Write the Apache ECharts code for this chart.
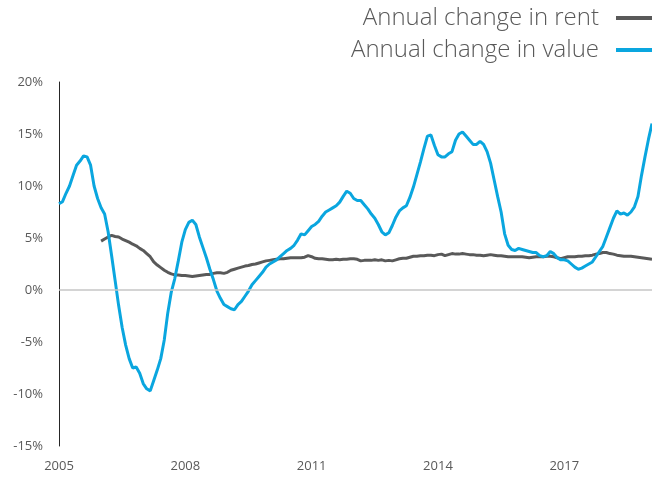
<!DOCTYPE html>
<html>
<head>
<meta charset="utf-8">
<script src="https://cdn.jsdelivr.net/npm/echarts@6/dist/echarts.min.js"></script>
<style>
html,body{margin:0;padding:0;background:#fff;}
#chart{width:652px;height:477px;}
</style>
</head>
<body>
<div id="chart"></div>
<script>
// Monthly categories Jan 2005 .. Feb 2019
const startYear = 2005;
const monthCount = 170;
const months = [];
for (let i = 0; i < monthCount; i++) {
  const y = startYear + Math.floor(i / 12);
  const m = (i % 12) + 1;
  months.push(y + '-' + (m < 10 ? '0' + m : m));
}
const yTicks = [-15, -10, -5, 0, 5, 10, 15, 20];

const valueChange = [
  8.3, 8.5, 9.3, 10.0, 11.0, 12.0, 12.4, 12.9, 12.8, 12.0, 10.0, 8.8,
  7.9, 7.3, 5.6, 3.3, 0.9, -1.5, -3.6, -5.3, -6.6, -7.5, -7.4, -8.0,
  -9.0, -9.5, -9.7, -8.7, -7.7, -6.6, -4.8, -2.2, -0.2, 1.1, 2.8, 4.6,
  5.8, 6.5, 6.7, 6.3, 5.1, 4.1, 3.1, 2.0, 1.0, -0.1, -0.8, -1.4,
  -1.6, -1.8, -1.9, -1.4, -1.1, -0.6, -0.1, 0.5, 0.9, 1.3, 1.7, 2.2,
  2.5, 2.7, 2.9, 3.2, 3.5, 3.8, 4.0, 4.3, 4.8, 5.4, 5.3, 5.7,
  6.1, 6.3, 6.6, 7.1, 7.5, 7.7, 7.9, 8.1, 8.45, 9.0, 9.5, 9.3,
  8.8, 8.6, 8.6, 8.2, 7.8, 7.3, 6.9, 6.3, 5.6, 5.3, 5.5, 6.2,
  7.0, 7.6, 7.9, 8.1, 8.9, 9.9, 11.1, 12.3, 13.6, 14.8, 14.9, 13.9,
  13.0, 12.8, 12.8, 13.1, 13.3, 14.4, 15.0, 15.2, 14.8, 14.4, 14.0, 14.0,
  14.3, 14.0, 13.3, 12.2, 10.6, 9.0, 7.5, 5.4, 4.3, 3.9, 3.8, 4.0,
  3.9, 3.8, 3.7, 3.6, 3.6, 3.3, 3.2, 3.3, 3.7, 3.5, 3.1, 2.9,
  2.9, 2.8, 2.5, 2.2, 2.0, 2.1, 2.3, 2.5, 2.7, 3.2, 3.7, 4.2,
  5.1, 6.0, 6.9, 7.6, 7.3, 7.4, 7.2, 7.5, 8.0, 9.0, 11.0, 12.8,
  14.5, 16.0
];

const rentChange = [
  null, null, null, null, null, null, null, null, null, null, null, null,
  4.7, 4.9, 5.1, 5.25, 5.15, 5.1, 4.9, 4.75, 4.6, 4.4, 4.25, 4.0,
  3.8, 3.5, 3.2, 2.7, 2.4, 2.15, 1.9, 1.7, 1.55, 1.45, 1.45, 1.4,
  1.4, 1.35, 1.3, 1.35, 1.4, 1.45, 1.5, 1.5, 1.6, 1.65, 1.65, 1.6,
  1.7, 1.9, 2.0, 2.1, 2.2, 2.3, 2.35, 2.45, 2.5, 2.6, 2.7, 2.8,
  2.85, 2.9, 2.95, 3.0, 3.0, 3.05, 3.1, 3.1, 3.1, 3.1, 3.15, 3.3,
  3.2, 3.05, 3.0, 3.0, 2.95, 2.9, 2.9, 2.95, 2.9, 2.95, 2.95, 3.0,
  3.0, 2.95, 2.8, 2.85, 2.85, 2.85, 2.9, 2.85, 2.9, 2.8, 2.85, 2.8,
  2.9, 3.0, 3.05, 3.05, 3.15, 3.25, 3.25, 3.3, 3.3, 3.35, 3.35, 3.3,
  3.4, 3.45, 3.3, 3.4, 3.5, 3.45, 3.45, 3.5, 3.45, 3.4, 3.4, 3.35,
  3.35, 3.3, 3.35, 3.4, 3.35, 3.3, 3.3, 3.25, 3.2, 3.2, 3.2, 3.2,
  3.2, 3.15, 3.1, 3.15, 3.2, 3.2, 3.2, 3.25, 3.25, 3.2, 3.1, 3.0,
  3.1, 3.2, 3.2, 3.2, 3.25, 3.25, 3.3, 3.3, 3.35, 3.45, 3.5, 3.6,
  3.6, 3.5, 3.45, 3.35, 3.3, 3.25, 3.25, 3.25, 3.2, 3.15, 3.1, 3.05,
  3.0, 2.95
];

const chart = echarts.init(document.getElementById('chart'), null, {renderer: 'canvas'});
const textColor = '#595959';
chart.setOption({
  animation: false,
  backgroundColor: '#ffffff',
  legend: {
    orient: 'vertical',
    right: 0,
    top: 6,
    padding: 0,
    align: 'right',
    itemGap: 8,
    itemWidth: 36,
    itemHeight: 4,
    icon: 'rect',
    textStyle: {
      fontFamily: 'Open Sans',
      fontWeight: 300,
      fontSize: 24,
      color: textColor,
      padding: [0, 12, 0, 0]
    },
    data: ['Annual change in rent', 'Annual change in value']
  },
  grid: {left: 59, right: 0, top: 82, bottom: 31},
  xAxis: {
    type: 'category',
    data: months,
    boundaryGap: false,
    axisLine: {show: false},
    axisTick: {show: false},
    splitLine: {show: false},
    axisLabel: {
      interval: 35,
      margin: 14,
      fontFamily: 'Open Sans',
      fontSize: 13,
      color: textColor,
      formatter: function (v) { return v.slice(0, 4); }
    }
  },
  yAxis: {
    type: 'value',
    min: yTicks[0],
    max: yTicks[yTicks.length - 1],
    interval: 5,
    axisLine: {show: true, lineStyle: {color: '#262626', width: 1}},
    axisTick: {show: false},
    splitLine: {show: false},
    axisLabel: {
      margin: 16,
      fontFamily: 'Open Sans',
      fontSize: 13,
      color: textColor,
      formatter: function (v) { return v + '%'; }
    }
  },
  series: [
    {
      name: 'Annual change in rent',
      type: 'line',
      data: rentChange,
      showSymbol: false,
      symbol: 'none',
      smooth: false,
      lineStyle: {color: '#595959', width: 3},
      itemStyle: {color: '#595959'},
      markLine: {
        silent: true,
        symbol: 'none',
        label: {show: false},
        lineStyle: {color: '#c6c6c6', width: 1.5, type: 'solid'},
        data: [{yAxis: 0}]
      },
      z: 2
    },
    {
      name: 'Annual change in value',
      type: 'line',
      data: valueChange,
      showSymbol: false,
      symbol: 'none',
      smooth: false,
      lineStyle: {color: '#0aa6df', width: 3},
      itemStyle: {color: '#0aa6df'},
      z: 3
    }
  ]
});
</script>
</body>
</html>
